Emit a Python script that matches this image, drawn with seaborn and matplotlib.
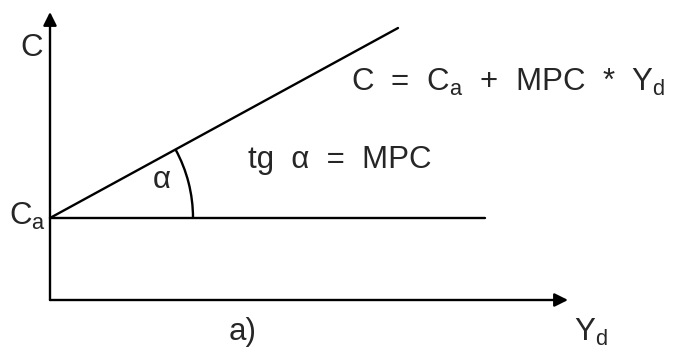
import numpy as np
import pandas as pd
import matplotlib
matplotlib.use('Agg')
import matplotlib.pyplot as plt
from matplotlib.patches import Arc
import seaborn as sns

sns.set_style("white")
plt.rcParams['font.family'] = ['Liberation Sans', 'DejaVu Sans']
plt.rcParams['mathtext.fontset'] = 'custom'
plt.rcParams['mathtext.rm'] = 'Liberation Sans'

# ================= 数据 =================
ca = 82            # autonomous consumption (intercept)
mpc = 190 / 348    # slope of consumption line
yd_line = [0, 348]
yd_flat = [0, 435]
x_axis_len = 518
y_axis_len = 288
arc_radius = 143

cons = pd.DataFrame({'Yd': yd_line, 'C': [ca + mpc * v for v in yd_line]})
flat = pd.DataFrame({'Yd': yd_flat, 'C': [ca, ca]})

# ================= 绘图 =================
fig = plt.figure(figsize=(6.74, 3.51), dpi=100)
ax = fig.add_axes([0, 0, 1, 1])
ax.set_xlim(-50, 624)
ax.set_ylim(-51, 300)
ax.axis('off')

sns.lineplot(data=cons, x='Yd', y='C', color='black', lw=1.7, ax=ax)
sns.lineplot(data=flat, x='Yd', y='C', color='black', lw=1.7, ax=ax)

arrow = dict(arrowstyle='-|>', color='black', lw=1.7, mutation_scale=20, shrinkA=0, shrinkB=0)
ax.annotate('', xy=(0, y_axis_len), xytext=(0, 0), arrowprops=arrow)
ax.annotate('', xy=(x_axis_len, 0), xytext=(0, 0), arrowprops=arrow)

angle = np.degrees(np.arctan(mpc))
ax.add_patch(Arc((0, ca), 2 * arc_radius, 2 * arc_radius, theta1=0, theta2=angle,
                 color='black', lw=1.7))

fs = 22.5
ax.text(-18, 252, 'C', fontsize=fs, ha='center', va='center')
ax.text(-41, 84, r'$\mathregular{C_a}$', fontsize=fs, ha='left', va='center')
ax.text(112, 120, 'α', fontsize=fs, ha='center', va='center')
ax.text(198, 140, 'tg  α  =  MPC', fontsize=fs, ha='left', va='center')
ax.text(301, 218, r'C  =  $\mathregular{C_a}$  +  MPC  *  $\mathregular{Y_d}$', fontsize=fs,
        ha='left', va='center')
ax.text(193, -32, 'a)', fontsize=fs, ha='center', va='center')
ax.text(524, -32, r'$\mathregular{Y_d}$', fontsize=fs, ha='left', va='center')

ax.set_xlabel('')
ax.set_ylabel('')
fig.savefig('out.png', dpi=100, facecolor='white')
